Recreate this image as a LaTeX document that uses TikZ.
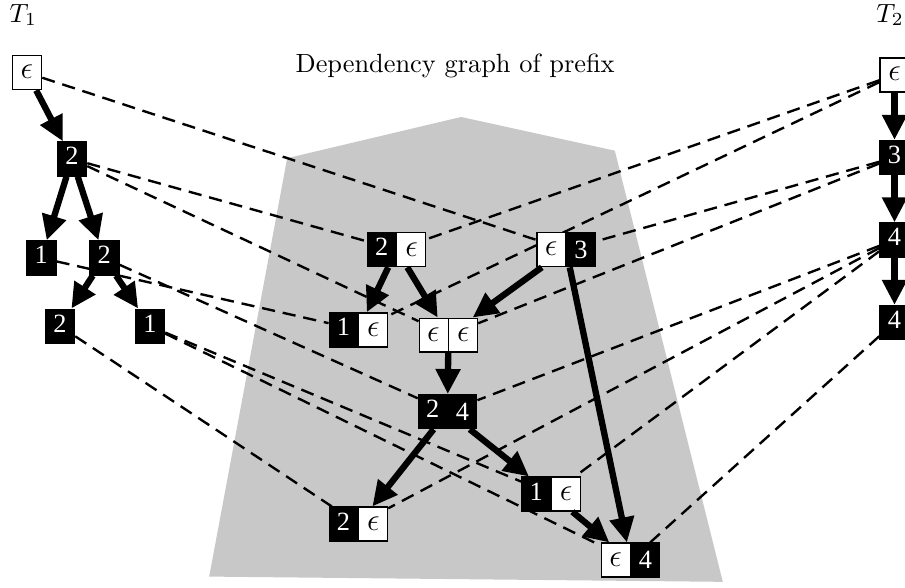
\documentclass[tikz,border=0pt]{standalone}
\usepackage{fontspec}
\usepackage{tikz}
\usetikzlibrary{arrows.meta,positioning,shapes.multipart,backgrounds}
\newfontfamily\digitfont{Liberation Serif}
\definecolor{hullgray}{HTML}{C8C8C8}
\newcommand{\dg}[1]{\textcolor{white}{\digitfont\fontsize{10}{12}\selectfont #1}}
\newcommand{\ep}{{\fontsize{11.5}{13}\selectfont$\epsilon$}}

\begin{document}
\begin{tikzpicture}[
  box/.style={draw=black,line width=0.5pt,inner sep=0pt,text width=3.9mm,
    align=center,text height=3.06mm,text depth=1.47mm},
  evt/.style={box,fill=black},
  eps/.style={box,fill=white},
  pair/.style={box,text width=3.8mm,rectangle split,
    rectangle split horizontal,rectangle split parts=2},
  bw/.style={pair,rectangle split part fill={black,white}},
  wb/.style={pair,rectangle split part fill={white,black}},
  ww/.style={pair,rectangle split part fill={white,white}},
  bb/.style={pair,rectangle split part fill={black,black}},
  arr/.style={-{Triangle[length=9.5pt,width=9pt]},line width=2.4pt},
  link/.style={dash pattern=on 5pt off 3pt,line width=0.9pt}
]
\useasboundingbox (0,0) rectangle (12.07,-7.83);
\node (title) at (6.07,-0.88) {Dependency graph of prefix};
\node (t1) at (0.31,-0.2) {$T_1$};
\node (t2) at (11.87,-0.2) {$T_2$};
% left tree
\node[eps] (a0) at (0.36,-0.97) {\ep};
\node[evt] (a1) at (0.96,-2.12) {\dg{2}};
\node[evt] (a2) at (0.55,-3.44) {\dg{1}};
\node[evt] (a3) at (1.39,-3.44) {\dg{2}};
\node[evt] (a4) at (0.80,-4.35) {\dg{2}};
\node[evt] (a5) at (2.00,-4.35) {\dg{1}};
% right tree
\node[eps] (b0) at (11.93,-1.00) {\ep};
\node[evt,below=6.3mm of b0] (b1) {\dg{3}};
\node[evt,below=6.3mm of b1] (b2) {\dg{4}};
\node[evt,below=6.3mm of b2] (b3) {\dg{4}};
% prefix
\node[bw] (q1) at (5.29,-3.33) {\dg{2}\nodepart{two}\ep};
\node[wb] (q2) at (7.55,-3.33) {\ep\nodepart{two}\dg{3}};
\node[bw] (q3) at (4.78,-4.40) {\dg{1}\nodepart{two}\ep};
\node[ww] (q4) at (5.98,-4.47) {\ep\nodepart{two}\ep};
\node[bb] (q5) at (5.97,-5.49) {\dg{2}\nodepart{two}\dg{4}};
\node[bw] (q6) at (7.35,-6.59) {\dg{1}\nodepart{two}\ep};
\node[bw] (q7) at (4.78,-6.99) {\dg{2}\nodepart{two}\ep};
\node[wb] (q8) at (8.41,-7.47) {\ep\nodepart{two}\dg{4}};
\begin{scope}[on background layer]
\fill[hullgray] (3.83,-2.11) -- (6.15,-1.56) -- (8.20,-2.01) -- (9.64,-7.76)
  -- (2.79,-7.69) -- cycle;
% projections
\draw[link] (a0)--(q2);
\draw[link] (a1)--(q1);
\draw[link] (a1)--(q4);
\draw[link] (a2)--(q3);
\draw[link] (a3)--(q5);
\draw[link] (a4)--(q7);
\draw[link] (a5)--(q6);
\draw[link] (a5)--(q8);
\draw[link] (b0)--(q1);
\draw[link] (b0)--(q3);
\draw[link] (b1)--(q2);
\draw[link] (b1)--(q4);
\draw[link] (b2)--(q5);
\draw[link] (b2)--(q6);
\draw[link] (b2)--(q7);
\draw[link] (b3)--(q8);
\end{scope}
% edges
\draw[arr] (a0)--(a1);
\draw[arr] (a1)--(a2);
\draw[arr] (a1)--(a3);
\draw[arr] (a3)--(a4);
\draw[arr] (a3)--(a5);
\draw[arr] (b0)--(b1);
\draw[arr] (b1)--(b2);
\draw[arr] (b2)--(b3);
\draw[arr] (q1)--(q3);
\draw[arr] (q1)--(q4);
\draw[arr] (q2)--(q4);
\draw[arr] (q2)--(q8);
\draw[arr] (q4)--(q5);
\draw[arr] (q5)--(q7);
\draw[arr] (q5)--(q6);
\draw[arr] (q6)--(q8);
\end{tikzpicture}
\end{document}
